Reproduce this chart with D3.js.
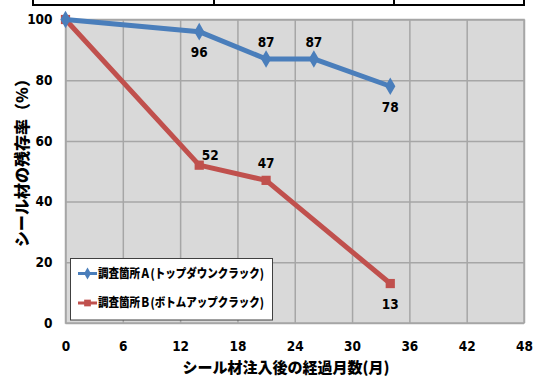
<!DOCTYPE html>
<html>
<head>
<meta charset="utf-8">
<script src="https://cdn.jsdelivr.net/npm/d3@7"></script>
<style>
  body { margin: 0; background: #fff; }
  svg { display: block; }
  .num { font-family: "Liberation Sans Narrow", "DejaVu Sans Condensed", sans-serif; font-weight: bold; font-size: 13.5px; fill: #000; }
  .jp { font-family: "Noto Sans CJK JP", sans-serif; font-weight: 900; fill: #000; }
</style>
</head>
<body>
<div id="canvas"></div>
<script>
// datos
const months = [0, 14, 21, 26, 34];
const monthsB = [0, 14, 21, 34];
const seriesA = [100, 96, 87, 87, 78];
const seriesB = [100, 52, 47, 13];
const labelsA = [null, "96", "87", "87", "78"];
const labelsB = [null, "52", "47", "13"];
const xTicks = [0, 6, 12, 18, 24, 30, 36, 42, 48];
const yTicks = [0, 20, 40, 60, 80, 100];
const legendNames = ["調査箇所Ａ(トップダウンクラック)", "調査箇所Ｂ(ボトムアップクラック)"];

const width = 535;
const height = 378;
const margin = { top: 19.5, left: 65.5, right: 11, bottom: 55 };

const svg = d3.select("#canvas").append("svg")
  .attr("width", width)
  .attr("height", height);

// tabla cortada arriba
const tbl = svg.append("g").attr("stroke", "#000").attr("stroke-width", 2).attr("fill", "none");
tbl.append("line").attr("x1", 32).attr("x2", 525).attr("y1", 5).attr("y2", 5);
[33, 214, 394, 524].forEach(px => {
  tbl.append("line").attr("x1", px).attr("x2", px).attr("y1", -2).attr("y2", 5);
});

const x = d3.scaleLinear().domain([0, 48]).range([margin.left, width - margin.right]);
const y = d3.scaleLinear().domain([0, 100]).range([height - margin.bottom, margin.top]);

// fondo gris
svg.append("rect")
  .attr("x", x(0)).attr("y", y(100))
  .attr("width", x(48) - x(0)).attr("height", y(0) - y(100))
  .attr("fill", "#d9d9d9")
  .attr("stroke", "#a6a6a6").attr("stroke-width", 1.5);

// rejilla
svg.append("g")
  .attr("transform", `translate(0,${y(0)})`)
  .call(d3.axisBottom(x).tickValues(xTicks).tickSize(-(y(0) - y(100))).tickFormat(""))
  .call(g => g.select(".domain").remove())
  .call(g => g.selectAll("line").attr("stroke", "#a6a6a6").attr("stroke-width", 1.5));

svg.append("g")
  .attr("transform", `translate(${x(0)},0)`)
  .call(d3.axisLeft(y).tickValues(yTicks).tickSize(-(x(48) - x(0))).tickFormat(""))
  .call(g => g.select(".domain").remove())
  .call(g => g.selectAll("line").attr("stroke", "#a6a6a6").attr("stroke-width", 1.5));

// etiquetas de ejes
svg.append("g")
  .attr("transform", `translate(0,${y(0)})`)
  .call(d3.axisBottom(x).tickValues(xTicks).tickSize(0).tickPadding(18))
  .call(g => g.select(".domain").remove())
  .call(g => g.selectAll("text").attr("class", "num").attr("font-size", null).attr("font-family", null));

svg.append("g")
  .attr("transform", `translate(${x(0)},0)`)
  .call(d3.axisLeft(y).tickValues(yTicks).tickSize(0).tickPadding(13))
  .call(g => g.select(".domain").remove())
  .call(g => g.selectAll("text").attr("class", "num").attr("font-size", null).attr("font-family", null));

// leyenda (detras de las lineas)
const legend = svg.append("g");
legend.append("rect")
  .attr("x", 70.5).attr("y", 258.5).attr("width", 202).attr("height", 61.5)
  .attr("fill", "#fff").attr("stroke", "#404040").attr("stroke-width", 1);

const line = d3.line().x(d => x(d[0])).y(d => y(d[1]));
const diamond = d3.symbol().type(d3.symbolDiamond);
const square = d3.symbol().type(d3.symbolSquare);

const series = [
  { xs: months, ys: seriesA, labels: labelsA, color: "#4a7ebb", sym: diamond, size: 90,
    place: ["", "below", "above", "above", "below"] },
  { xs: monthsB, ys: seriesB, labels: labelsB, color: "#c0504d", sym: square, size: 85,
    place: ["", "aboveRight", "above", "below"] }
];

// B primero, A encima
[series[1], series[0]].forEach(s => {
  const pts = s.xs.map((m, i) => [m, s.ys[i]]);
  svg.append("path")
    .attr("d", line(pts))
    .attr("fill", "none")
    .attr("stroke", s.color)
    .attr("stroke-width", 5)
    .attr("stroke-linejoin", "round");
  svg.selectAll(null).data(pts).enter().append("path")
    .attr("d", s.sym.size(s.size))
    .attr("transform", d => `translate(${x(d[0])},${y(d[1])})`)
    .attr("fill", s.color);
});

series.forEach(s => {
  s.xs.forEach((m, i) => {
    if (!s.labels[i]) return;
    let dx = 0, dy = 0;
    if (s.place[i] === "below") dy = 21;
    if (s.place[i] === "above") dy = -17;
    if (s.place[i] === "aboveRight") { dx = 11; dy = -10; }
    svg.append("text")
      .attr("class", "num")
      .attr("x", x(m) + dx)
      .attr("y", y(s.ys[i]) + dy)
      .attr("dy", "0.35em")
      .attr("text-anchor", "middle")
      .text(s.labels[i]);
  });
});

// entradas de leyenda
series.forEach((s, i) => {
  const ly = 273.5 + i * 29.5;
  legend.append("line")
    .attr("x1", 78).attr("x2", 97).attr("y1", ly).attr("y2", ly)
    .attr("stroke", s.color).attr("stroke-width", 3);
  legend.append("path")
    .attr("d", s.sym.size(i === 0 ? 40 : 45))
    .attr("transform", `translate(87.5,${ly})`)
    .attr("fill", s.color);
  legend.append("text")
    .attr("class", "jp")
    .attr("x", 98).attr("y", ly)
    .attr("dy", "0.35em")
    .attr("font-size", 12.5)
    .attr("textLength", 166)
    .attr("lengthAdjust", "spacingAndGlyphs")
    .text(legendNames[i]);
});

// titulos de ejes
svg.append("text")
  .attr("class", "jp")
  .attr("font-size", 16)
  .attr("text-anchor", "middle")
  .attr("transform", `translate(22,159) rotate(-90)`)
  .attr("dy", "0.35em")
  .text("シール材の残存率（%）");

svg.append("text")
  .attr("class", "jp")
  .attr("font-size", 15)
  .attr("text-anchor", "middle")
  .attr("x", 286).attr("y", 368)
  .attr("dy", "0.35em")
  .text("シール材注入後の経過月数(月)");
</script>
</body>
</html>
